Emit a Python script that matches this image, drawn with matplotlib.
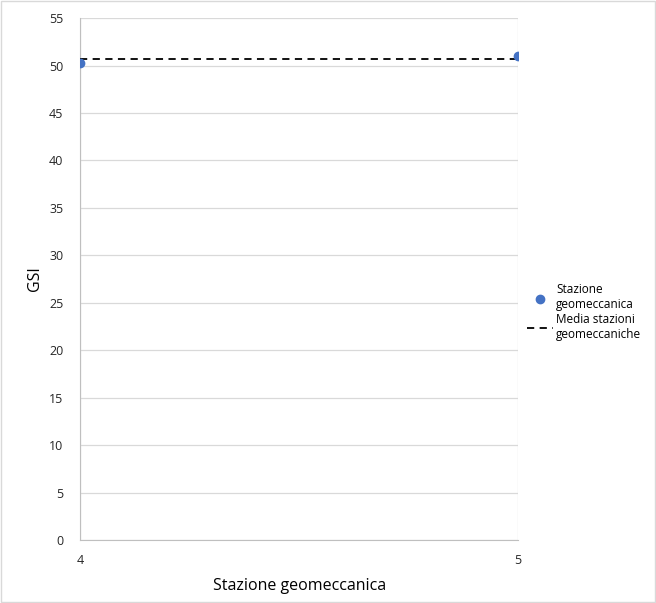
import matplotlib
matplotlib.use('Agg')
import numpy as np
from matplotlib import pyplot as plt

plt.rcParams['font.family'] = ['Open Sans', 'DejaVu Sans']

# dati
stazioni = [4, 5]
gsi = [50.3, 51.0]
media = np.mean(gsi)
yticks = list(range(0, 60, 5))

fig = plt.figure(figsize=(6.56, 6.03), dpi=100)
fig.patches.append(plt.Rectangle((0.002, 0.002), 0.996, 0.996, transform=fig.transFigure,
                                 fill=False, edgecolor='#d9d9d9', linewidth=1))
ax = fig.add_axes([0.122, 0.1045, 0.668, 0.8655])

ax.plot(stazioni, [media, media], color='black', linestyle=(0, (4, 3)), linewidth=1.3,
        label='Media stazioni\ngeomeccaniche', zorder=3)
ax.scatter(stazioni, gsi, color='#4472c4', s=36, zorder=4, label='Stazione\ngeomeccanica')

ax.set_xlim(4, 5)
ax.set_ylim(0, 55)
ax.set_xticks(stazioni)
ax.set_yticks(yticks)
ax.grid(True, color='#d9d9d9', linewidth=0.9)
ax.set_axisbelow(True)
for s in ['top', 'right']:
    ax.spines[s].set_visible(False)
ax.spines['left'].set_color('#bfbfbf')
ax.spines['bottom'].set_color('#bfbfbf')
ax.tick_params(axis='both', length=0, labelsize=9, colors='#262626', pad=12)
ax.tick_params(axis='x', pad=10)
ax.set_xlabel('Stazione geomeccanica', fontsize=11.5, labelpad=8)
ax.set_ylabel('GSI', fontsize=11.5, labelpad=4)

h, l = ax.get_legend_handles_labels()
ax.legend(h[::-1], l[::-1], loc='center left', bbox_to_anchor=(0.995, 0.437), frameon=False,
          fontsize=8.5, handlelength=2.2, handletextpad=0.3, labelspacing=0.15)

fig.savefig('out.png', dpi=100)
